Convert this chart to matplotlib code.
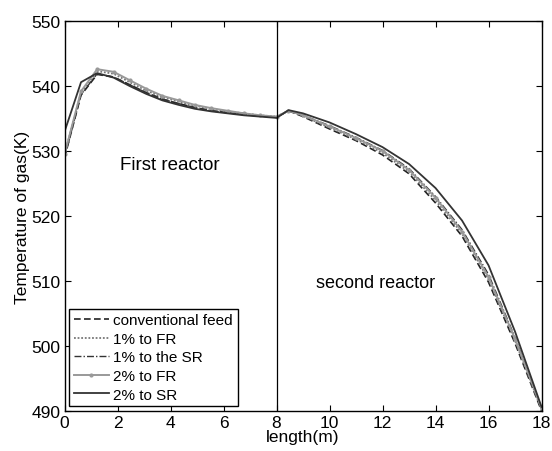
import matplotlib
matplotlib.use("Agg")
import matplotlib.pyplot as plt

plt.rcParams['font.family'] = ['Liberation Sans', 'DejaVu Sans']

# length (m) in first and second reactor
x_first = [0, 0.62, 1.23, 1.85, 2.46, 3.08, 3.69, 4.31, 4.92, 5.54, 6.15, 6.77, 7.38, 8.0]
x_second = [8.0, 8.45, 9, 10, 11, 12, 13, 14, 15, 16, 17, 18]

# temperature (K)
conv_first = [529.0, 538.6, 541.8, 541.4, 540.2, 539.0, 538.0, 537.3, 536.7, 536.2, 535.9, 535.6, 535.4, 535.2]
fr1_first = [529.5, 539.0, 542.3, 541.9, 540.6, 539.3, 538.3, 537.6, 537.0, 536.5, 536.1, 535.8, 535.5, 535.3]
sr1_first = [529.0, 538.7, 541.9, 541.4, 540.2, 539.0, 538.0, 537.3, 536.7, 536.2, 535.9, 535.6, 535.4, 535.2]
fr2_first = [529.5, 539.2, 542.6, 542.2, 540.9, 539.6, 538.5, 537.8, 537.1, 536.6, 536.2, 535.8, 535.5, 535.3]
sr2_first = [533.0, 540.6, 542.0, 541.3, 540.0, 538.8, 537.8, 537.1, 536.5, 536.1, 535.8, 535.5, 535.3, 535.1]

conv_second = [535.2, 536.2, 535.3, 533.4, 531.6, 529.4, 526.5, 522.0, 516.9, 509.8, 500.4, 490.0]
fr1_second = [535.3, 536.2, 535.4, 533.6, 531.8, 529.7, 526.8, 522.4, 517.3, 510.2, 500.8, 490.2]
sr1_second = [535.2, 536.2, 535.5, 533.9, 532.1, 530.1, 527.3, 523.0, 517.9, 511.0, 501.3, 490.3]
fr2_second = [535.3, 536.2, 535.5, 533.8, 532.0, 530.0, 527.1, 522.8, 517.6, 510.6, 501.1, 490.4]
sr2_second = [535.1, 536.3, 535.8, 534.4, 532.6, 530.6, 528.0, 524.3, 519.3, 512.4, 502.2, 490.6]

labels = ["conventional feed", "1% to FR", "1% to the SR", "2% to FR", "2% to SR"]
x_ticks = [0, 2, 4, 6, 8, 10, 12, 14, 16, 18]
y_ticks = [490, 500, 510, 520, 530, 540, 550]

x_all = x_first + x_second[1:]
series = [
    conv_first + conv_second[1:],
    fr1_first + fr1_second[1:],
    sr1_first + sr1_second[1:],
    fr2_first + fr2_second[1:],
    sr2_first + sr2_second[1:],
]
styles = [
    dict(color='#222222', linestyle=(0, (4, 2)), linewidth=1.2),
    dict(color='#777777', linestyle=(0, (1, 1)), linewidth=1.3),
    dict(color='#333333', linestyle=(0, (5, 1.5, 1, 1.5)), linewidth=1.0),
    dict(color='#999999', linestyle='-', linewidth=1.4, marker='.', markersize=4),
    dict(color='#333333', linestyle='-', linewidth=1.3),
]

fig = plt.figure(figsize=(5.52, 4.52), dpi=100)
ax = fig.add_axes([0.117, 0.089, 0.864, 0.862])

for y, lab, st in zip(series, labels, styles):
    ax.plot(x_all, y, label=lab, **st)

ax.axvline(8, color='black', linewidth=0.9)

ax.set_xlim(0, 18)
ax.set_ylim(490, 550)
ax.set_xticks(x_ticks)
ax.set_yticks(y_ticks)
ax.tick_params(direction='in', top=True, right=True, labelsize=12.5, length=4, pad=3)
for s in ax.spines.values():
    s.set_linewidth(1.0)

ax.text(2.1, 528, "First reactor", fontsize=13.5, va='center', ha='left')
ax.text(9.5, 509.8, "second reactor", fontsize=13, va='center', ha='left')

ax.set_xlabel("length(m)", fontsize=12.5, labelpad=-1)
ax.set_ylabel("Temperature of gas(K)", fontsize=12.5, labelpad=1)

leg = ax.legend(loc='lower left', fontsize=11, frameon=True, fancybox=False,
                edgecolor='black', framealpha=1, handlelength=2.3,
                labelspacing=0.3, borderaxespad=0.3, handletextpad=0.3,
                borderpad=0.3)
leg.get_frame().set_linewidth(1.0)

fig.savefig("out.png", dpi=100)
